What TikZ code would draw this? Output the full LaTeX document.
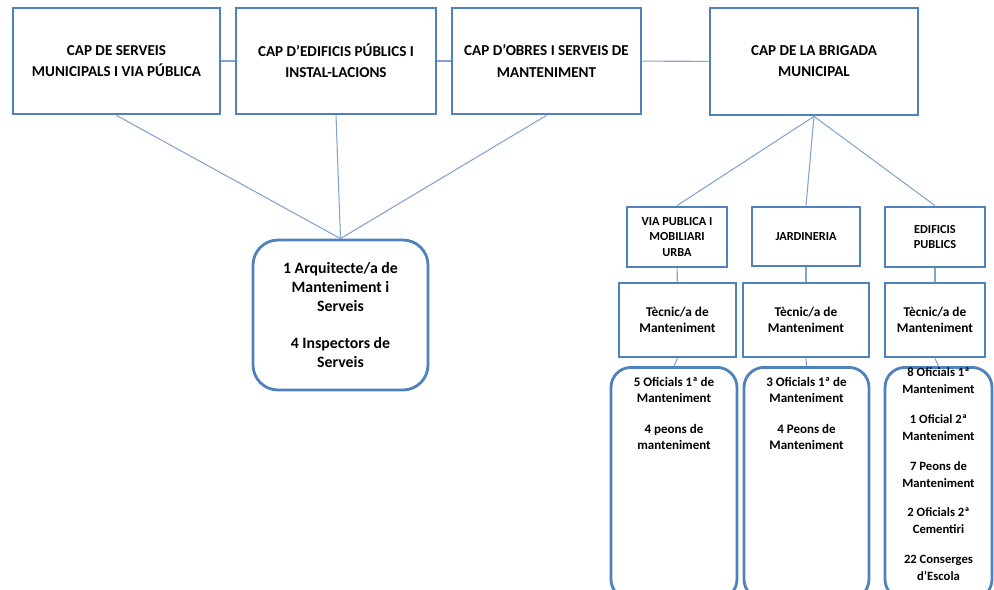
\documentclass[tikz,border=0pt]{standalone}
\usepackage{fontspec}
\setmainfont{Carlito}
\definecolor{boxblue}{RGB}{79,129,189}
\definecolor{lineblue}{RGB}{130,163,208}

\begin{document}
\begin{tikzpicture}[x=0.02cm,y=-0.02cm,
	capbox/.style={draw=boxblue,line width=1.6pt,align=center,inner sep=0pt,minimum height=2.12cm,
		font=\bfseries\fontsize{8.6}{12}\selectfont},
	secbox/.style={draw=boxblue,line width=1.6pt,align=center,inner sep=0pt,
		font=\bfseries\fontsize{7}{9}\selectfont},
	tecbox/.style={secbox,minimum height=1.48cm,font=\bfseries\fontsize{7.6}{9}\selectfont},
	equipbox/.style={draw=boxblue,line width=1.6pt,rounded corners=0.4cm,minimum height=4.64cm,anchor=north},
	txt/.style={align=center,inner sep=0pt,anchor=north,font=\bfseries\fontsize{7.4}{9}\selectfont},
	conn/.style={draw=lineblue,line width=0.6pt}]
\useasboundingbox (0,0) rectangle (994,589);
\clip (0,0) rectangle (994,589);

\node[capbox,minimum width=4.14cm] (serveis) at (116.5,61) {CAP DE SERVEIS\\MUNICIPALS I VIA PÚBLICA};
\node[capbox,minimum width=4cm] (edificis) at (336,61) {CAP D’EDIFICIS PÚBLICS I\\INSTAL-LACIONS};
\node[capbox,minimum width=3.78cm] (obres) at (546.5,61) {CAP D’OBRES I SERVEIS DE\\MANTENIMENT};
\node[capbox,minimum width=4.16cm,minimum height=2.14cm] (brigada) at (814,61.5) {CAP DE LA BRIGADA\\MUNICIPAL};

\node[draw=boxblue,line width=1.6pt,rounded corners=0.5cm,minimum width=3.5cm,minimum height=3cm,
	align=center,inner sep=0pt,font=\bfseries\fontsize{9}{10.8}\selectfont] (arquitecte) at (340.5,315)
	{1 Arquitecte/a de\\Manteniment i\\Serveis\\[\baselineskip]4 Inspectors de\\Serveis};

\node[secbox,minimum width=2cm,minimum height=1.2cm] (via) at (677,237) {VIA PUBLICA I\\MOBILIARI\\URBA};
\node[secbox,minimum width=2.16cm,minimum height=1.18cm] (jardineria) at (806,236.5) {JARDINERIA};
\node[secbox,minimum width=2cm,minimum height=1.2cm] (publics) at (935,237) {EDIFICIS\\PUBLICS};

\node[tecbox,minimum width=2.34cm] (tecvia) at (677.5,320) {Tècnic/a de\\Manteniment};
\node[tecbox,minimum width=2.52cm] (tecjard) at (806,320) {Tècnic/a de\\Manteniment};
\node[tecbox,minimum width=2cm] (tecpub) at (935,320) {Tècnic/a de\\Manteniment};

\node[equipbox,minimum width=2.52cm] (eqvia) at (674,366) {};
\node[equipbox,minimum width=2.5cm] (eqjard) at (806.5,366) {};
\node[equipbox,minimum width=2.14cm] (eqpub) at (938.5,366) {};

\node[txt] (persvia) at (674,377) {5 Oficials 1ª de\\Manteniment\\[\baselineskip]4 peons de\\manteniment};
\node[txt] (persjard) at (806.5,377) {3 Oficials 1ª de\\Manteniment\\[\baselineskip]4 Peons de\\Manteniment};
\node[txt,font=\bfseries\fontsize{7.2}{9.6}\selectfont] (perspub) at (938.5,367.5)
	{8 Oficials 1ª\\Manteniment\\[7.4pt]1 Oficial 2ª\\Manteniment\\[7.4pt]7 Peons de\\Manteniment\\[7.4pt]2 Oficials 2ª\\Cementiri\\[7.4pt]22 Conserges\\d’Escola};

\draw[conn] (serveis) -- (edificis);
\draw[conn] (edificis) -- (obres);
\draw[conn] (obres) -- (brigada);
\foreach \n in {serveis,edificis,obres}
	\draw[conn] (\n.south) -- (arquitecte.north);
\foreach \n in {via,jardineria,publics}
	\draw[conn] (brigada.south) -- (\n.north);
\draw[conn] (via) -- (tecvia);
\draw[conn] (jardineria) -- (tecjard);
\draw[conn] (publics) -- (tecpub);
\draw[conn] (tecvia.south) -- (eqvia.north);
\draw[conn] (tecjard.south) -- (eqjard.north);
\draw[conn] (tecpub.south) -- (eqpub.north);
\end{tikzpicture}
\end{document}
